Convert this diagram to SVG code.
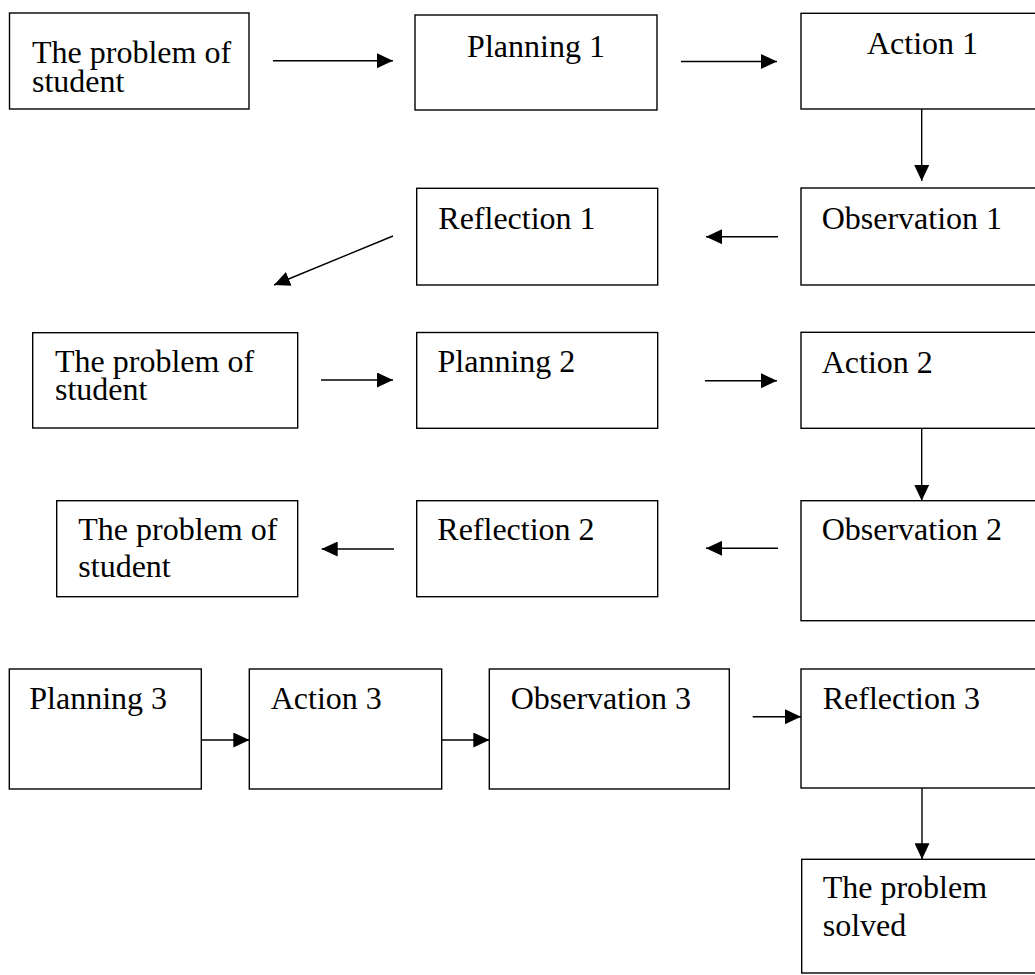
<svg xmlns="http://www.w3.org/2000/svg" width="1035" height="975" viewBox="0 0 1035 975">
<style>
.box{fill:#fff;stroke:#000;stroke-width:1.4}
.t{font-family:"Liberation Serif","Times New Roman",serif;font-size:32px;fill:#000}
.c{stroke:#000;stroke-width:1.4;fill:none;marker-end:url(#ah)}
</style>
<defs>
<marker id="ah" markerUnits="userSpaceOnUse" markerWidth="16" markerHeight="15" refX="16" refY="7.5" orient="auto">
<path d="M0,0 L16,7.5 L0,15 Z" fill="#000"/>
</marker>
</defs>
<rect width="1035" height="975" fill="#fff"/>
<g id="connectors">
<line class="c" x1="273" y1="60.7" x2="393" y2="60.7"/>
<line class="c" x1="681" y1="61.5" x2="777" y2="61.5"/>
<line class="c" x1="921.7" y1="109" x2="921.7" y2="181"/>
<line class="c" x1="778" y1="236.7" x2="706" y2="236.7"/>
<line class="c" x1="393" y1="236" x2="274" y2="285"/>
<line class="c" x1="321" y1="380" x2="393" y2="380"/>
<line class="c" x1="705" y1="380.7" x2="777" y2="380.7"/>
<line class="c" x1="921.7" y1="428.3" x2="921.7" y2="500.7"/>
<line class="c" x1="778" y1="548.3" x2="706" y2="548.3"/>
<line class="c" x1="394" y1="549" x2="321.7" y2="549"/>
<line class="c" x1="201.3" y1="740" x2="249.3" y2="740"/>
<line class="c" x1="441.7" y1="740" x2="489.3" y2="740"/>
<line class="c" x1="752.7" y1="716.7" x2="801" y2="716.7"/>
<line class="c" x1="922" y1="788" x2="922" y2="859.3"/>
</g>
<g id="problem1">
<rect class="box" x="9.5" y="13" width="239.5" height="96"/>
<text class="t" x="32" y="63">The problem of</text>
<text class="t" x="32" y="92">student</text>
</g>
<g id="planning1">
<rect class="box" x="415" y="15" width="242" height="95"/>
<text class="t" x="536" y="57" text-anchor="middle">Planning 1</text>
</g>
<g id="action1">
<rect class="box" x="801" y="13.3" width="241" height="95.7"/>
<text class="t" x="867" y="54">Action 1</text>
</g>
<g id="observation1">
<rect class="box" x="801" y="188" width="241" height="97"/>
<text class="t" x="821.7" y="228.5">Observation 1</text>
</g>
<g id="reflection1">
<rect class="box" x="416.7" y="188.3" width="241" height="96.7"/>
<text class="t" x="438.3" y="229">Reflection 1</text>
</g>
<g id="problem2">
<rect class="box" x="32.7" y="332.7" width="265" height="95.3"/>
<text class="t" x="55" y="371.7">The problem of</text>
<text class="t" x="55" y="400">student</text>
</g>
<g id="planning2">
<rect class="box" x="416.7" y="332.5" width="241" height="95.8"/>
<text class="t" x="437.5" y="371.7">Planning 2</text>
</g>
<g id="action2">
<rect class="box" x="801" y="332.3" width="241" height="96"/>
<text class="t" x="821.7" y="372.5">Action 2</text>
</g>
<g id="observation2">
<rect class="box" x="801" y="500.7" width="241" height="120"/>
<text class="t" x="821.7" y="540">Observation 2</text>
</g>
<g id="reflection2">
<rect class="box" x="416.7" y="500.7" width="241" height="96"/>
<text class="t" x="437.3" y="540">Reflection 2</text>
</g>
<g id="problem3">
<rect class="box" x="56.7" y="500.7" width="241" height="96"/>
<text class="t" x="78.3" y="540">The problem of</text>
<text class="t" x="78.3" y="577.3">student</text>
</g>
<g id="planning3">
<rect class="box" x="9.3" y="669" width="192" height="120"/>
<text class="t" x="29.3" y="709.3">Planning 3</text>
</g>
<g id="action3">
<rect class="box" x="249.3" y="669" width="192.4" height="120"/>
<text class="t" x="270.7" y="709.3">Action 3</text>
</g>
<g id="observation3">
<rect class="box" x="489.3" y="669" width="240" height="120"/>
<text class="t" x="510.7" y="709.3">Observation 3</text>
</g>
<g id="reflection3">
<rect class="box" x="801" y="669" width="241" height="119"/>
<text class="t" x="822.7" y="709.3">Reflection 3</text>
</g>
<g id="solved">
<rect class="box" x="801.7" y="859.3" width="240.3" height="113.7"/>
<text class="t" x="822.7" y="898.3">The problem</text>
<text class="t" x="822.7" y="936">solved</text>
</g>
</svg>
